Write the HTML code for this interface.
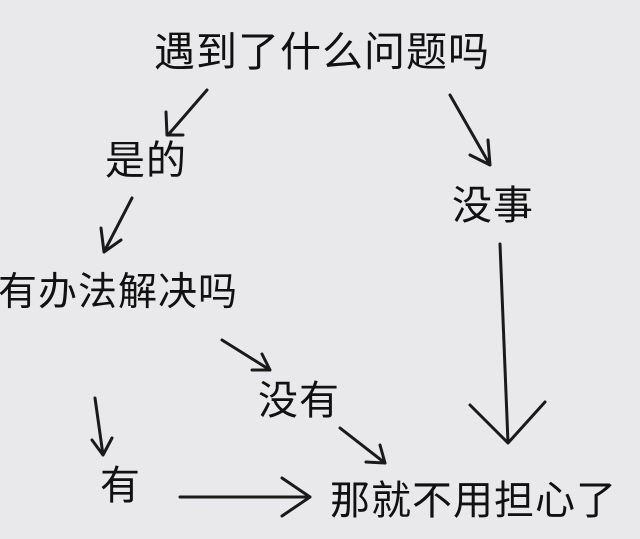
<!DOCTYPE html>
<html><head><meta charset="utf-8"><style>
html,body{margin:0;padding:0;}
body{width:640px;height:539px;background:#e9e9eb;position:relative;overflow:hidden;font-family:"Liberation Sans","Noto Sans CJK SC",sans-serif;color:#111;}
.t{position:absolute;font-size:40px;line-height:1;white-space:nowrap;letter-spacing:1px;}
svg{position:absolute;left:0;top:0;}
</style></head><body>
<div class="t" style="left:154px;top:32px;font-size:41px;">遇到了什么问题吗</div>
<div class="t" style="left:105px;top:141px;">是的</div>
<div class="t" style="left:452px;top:186px;">没事</div>
<div class="t" style="left:-2px;top:273px;font-size:39px;">有办法解决吗</div>
<div class="t" style="left:258px;top:381px;">没有</div>
<div class="t" style="left:100px;top:466px;">有</div>
<div class="t" style="left:330px;top:481px;">那就不用担心了</div>
<svg width="640" height="539" viewBox="0 0 640 539" fill="none" stroke="#1a1a1a" stroke-width="3" stroke-linecap="round" stroke-linejoin="round">
<path d="M207 90 L168 135 M166 112 L167 135 L183 135"/>
<path d="M450 95 L490 165 M488 140 L490 165 L470 155"/>
<path d="M132 198 L104 252 M101 228 L104 252 L121 240"/>
<path d="M222 340 L270 370 M252 370 L270 370 L262 354"/>
<path d="M95 398 L103 455 M92 440 L103 455 L112 438"/>
<path d="M340 428 L385 463 M366 462 L385 463 L380 445"/>
<path d="M180 497 L310 497 M282 478 L310 497 L282 516"/>
<path d="M500 244 L508 443 M470 405 L508 443 L545 402"/>
</svg>
</body></html>
